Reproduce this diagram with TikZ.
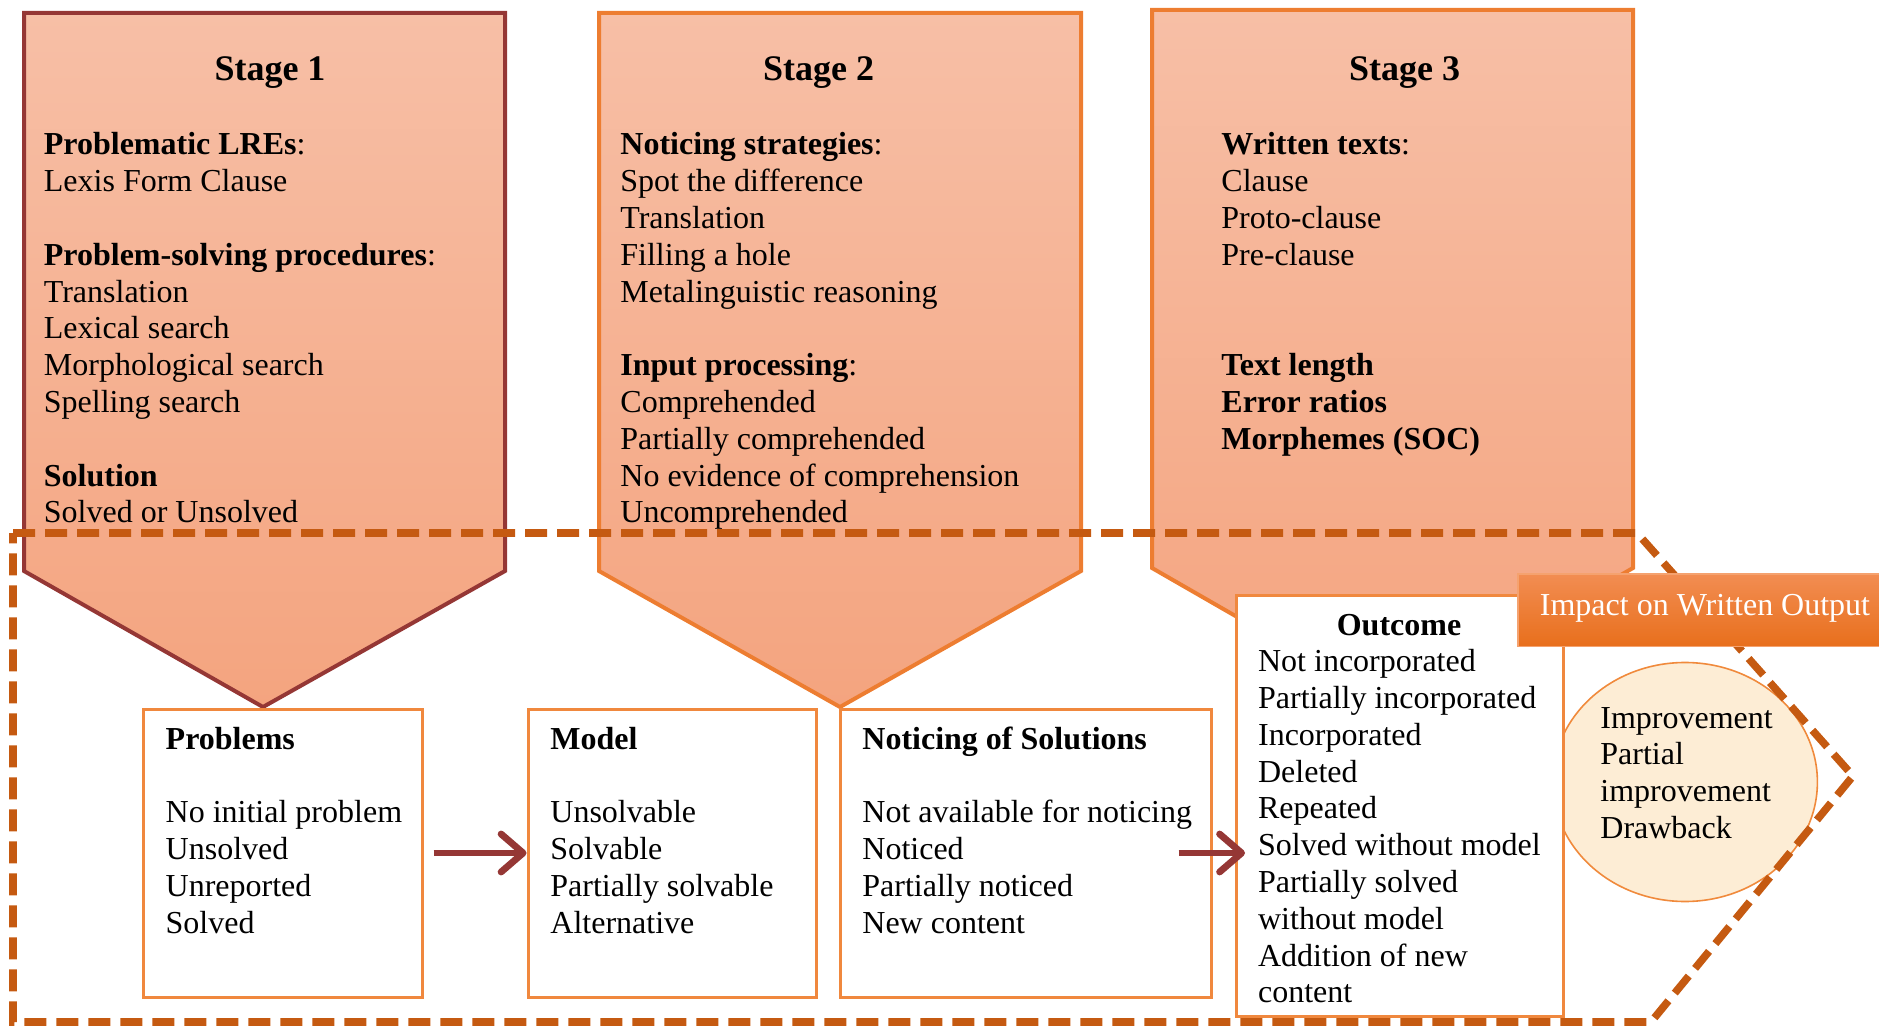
\documentclass[tikz,border=0pt]{standalone}
\usepackage{fontspec}
\setmainfont{Liberation Serif}
\usetikzlibrary{arrows.meta,fit,shapes.geometric}

\definecolor{stageTop}{HTML}{F7BFA6}
\definecolor{stageBot}{HTML}{F4A47F}
\definecolor{stageRed}{HTML}{953735}
\definecolor{stageOrange}{HTML}{ED7D31}
\definecolor{boxOrange}{HTML}{F0883E}
\definecolor{dashOrange}{HTML}{C55A11}
\definecolor{arrowRed}{HTML}{953735}
\definecolor{impactTop}{HTML}{F28D52}
\definecolor{impactBot}{HTML}{E86F1C}
\definecolor{impactLine}{HTML}{F5A26F}
\definecolor{creamFill}{HTML}{FDEDD5}
\definecolor{ovalLine}{HTML}{F08A3C}

% left-aligned rows with a fixed line pitch; the base line is that of the first row
\newcommand\textrows[1]{\vtop{\baselineskip=18.4pt\lineskiplimit=-100pt\lineskip=0pt
  \halign{##\hfil\cr#1\crcr}}}

\begin{document}
\begin{tikzpicture}[x=0.5pt,y=-0.5pt,
  stagebox/.style={line width=2pt, top color=stageTop, bottom color=stageBot, line join=miter},
  listbox/.style={draw=boxOrange, line width=1.5pt, fill=white, inner sep=0pt},
  rows/.style={anchor=base west, inner sep=0pt, font=\fontsize{16}{18.4}\selectfont},
  stagetitle/.style={anchor=base, inner sep=0pt, font=\fontsize{18}{21}\selectfont\bfseries},
  flowarrow/.style={draw=arrowRed, line width=3.4pt, -{Straight Barb[length=11pt,width=19pt,round]}},
  dashframe/.style={draw=dashOrange, line width=3.8pt, dash pattern=on 11pt off 5pt},
]
\useasboundingbox (0,0) rectangle (1879,1026);

% the three stage chevrons
\path[stagebox, draw=stageRed]
  (24,13) -- (505,13) -- (505,571) -- (263,707) -- (24,571) -- cycle;
\path[stagebox, draw=stageOrange]
  (599,13) -- (1081,13) -- (1081,571) -- (840,707) -- (599,571) -- cycle;
\path[stagebox, draw=stageOrange]
  (1152,10) -- (1633,10) -- (1633,568) -- (1392,706) -- (1152,568) -- cycle;

% outcome oval
\node[ellipse, draw=ovalLine, line width=0.8pt, fill=creamFill,
      minimum width=132.4pt, minimum height=119.5pt, inner sep=0pt] (impactoval) at (1685,782) {};

% dashed frame round the lower part
\coordinate (fr1) at (13,533);
\coordinate (fr2) at (1637,533);
\coordinate (fr3) at (1853,776);
\coordinate (fr4) at (1651,1022);
\coordinate (fr5) at (13,1022);
\draw[dashframe] (fr1) -- (fr2) -- (fr3) -- (fr4) -- (fr5) -- cycle;

% list boxes
\node[listbox, fit={(143.5,709) (422,997)}] (problems) {};
\node[listbox, fit={(528,709) (816,997)}] (model) {};
\node[listbox, fit={(840.5,709) (1211.5,997)}] (notice) {};
\node[listbox, fit={(1236.5,595) (1563,1016.5)}] (outcome) {};

% label bar
\node[fit={(1518,574) (1890,646.5)}, inner sep=0pt, draw=impactLine, line width=0.6pt,
      top color=impactTop, bottom color=impactBot] (impact) {};
\node[anchor=base, inner sep=0pt, text=white, font=\fontsize{16}{18.4}\selectfont]
  (impacttext) at (1705,615) {Impact on Written Output};

% arrows between the boxes
\draw[flowarrow] ([xshift=5pt]problems.east) -- (model.west);
\draw[flowarrow] ([xshift=-17.25pt]notice.east) -- ([xshift=5pt]notice.east -| outcome.west);

% stage texts
\node[stagetitle] (s1title) at (270,80.5) {Stage 1};
\node[stagetitle] (s2title) at (818.6,80.5) {Stage 2};
\node[stagetitle] (s3title) at (1404.7,80.5) {Stage 3};

\node[rows] (s1text) at (43.5,155) {\textrows{\textbf{Problematic LREs}:\cr
  Lexis Form Clause\cr\cr
  \textbf{Problem-solving procedures}:\cr
  Translation\cr Lexical search\cr Morphological search\cr Spelling search\cr\cr
  \textbf{Solution}\cr Solved or Unsolved}};

\node[rows] (s2text) at (620,155) {\textrows{\textbf{Noticing strategies}:\cr
  Spot the difference\cr Translation\cr Filling a hole\cr Metalinguistic reasoning\cr\cr
  \textbf{Input processing}:\cr
  Comprehended\cr Partially comprehended\cr No evidence of comprehension\cr Uncomprehended}};

\node[rows] (s3text) at (1221,155) {\textrows{\textbf{Written texts}:\cr
  Clause\cr Proto-clause\cr Pre-clause\cr\cr\cr
  \textbf{Text length}\cr \textbf{Error ratios}\cr \textbf{Morphemes (SOC)}}};

% box texts
\node[rows] (problemstext) at (165.3,749) {\textrows{\textbf{Problems}\cr\cr
  No initial problem\cr Unsolved\cr Unreported\cr Solved}};
\node[rows] (modeltext) at (550,749) {\textrows{\textbf{Model}\cr\cr
  Unsolvable\cr Solvable\cr Partially solvable\cr Alternative}};
\node[rows] (noticetext) at (862,749) {\textrows{\textbf{Noticing of Solutions}\cr\cr
  Not available for noticing\cr Noticed\cr Partially noticed\cr New content}};

\node[anchor=base, inner sep=0pt, font=\fontsize{16}{18.4}\selectfont\bfseries]
  (outcometitle) at (1399,635) {Outcome};
\node[rows] (outcometext) at (1257.7,671.7) {\textrows{Not incorporated\cr
  Partially incorporated\cr Incorporated\cr Deleted\cr Repeated\cr
  Solved without model\cr Partially solved\cr without model\cr
  Addition of new\cr content}};

\node[rows] (ovaltext) at (1600,728) {\textrows{Improvement\cr Partial\cr improvement\cr Drawback}};
\end{tikzpicture}
\end{document}
